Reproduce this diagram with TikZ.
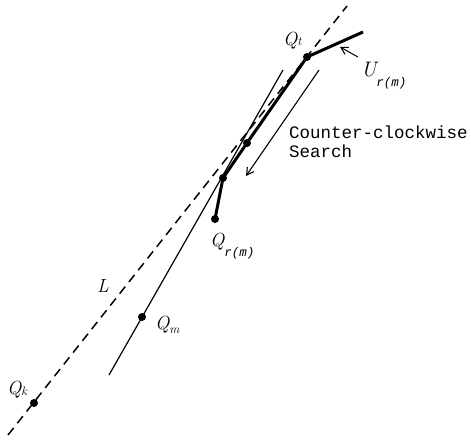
\documentclass[tikz,border=0pt]{standalone}
\usepackage{fontspec}
\setmonofont{Liberation Mono}
\usetikzlibrary{arrows.meta}
\newcommand\lsub[2]{\raisebox{-#1}{\fontsize{12.5}{13}\selectfont #2}}
\begin{document}
\begin{tikzpicture}[x=1pt,y=-1pt,
  dot/.style={circle,fill,inner sep=0pt,minimum size=8pt},
  lbl/.style={inner sep=0pt,anchor=base west,font=\fontsize{19}{22}\selectfont\itshape},
  thinline/.style={line width=1.2pt},
  boldline/.style={line width=3pt,line join=round},
  dashline/.style={line width=1.5pt,dash pattern=on 9pt off 6pt},
  pointer/.style={line width=1.1pt,-{Straight Barb[length=7pt,width=8pt]}}]
\useasboundingbox (0,0) rectangle (471,443);
% dashed line L
\coordinate (Lb) at (8,435);
\coordinate (Lt) at (347,6);
\draw[dashline] (Lb) -- (Lt);
% thin line through Qm
\coordinate (Mb) at (109,375);
\coordinate (Mt) at (283,70);
\draw[thinline] (Mb) -- (Mt);
% bold polyline
\node[dot] (qr) at (215,219) {};
\node[dot] (p1) at (223,178) {};
\node[dot] (p2) at (247,143) {};
\node[dot] (qt) at (307,57) {};
\coordinate (ue) at (363,32);
\draw[boldline] (qr.center) -- (p1.center) -- (p2.center) -- (qt.center) -- (ue);
\node[dot] (qm) at (142,317) {};
\node[dot] (qk) at (34,403) {};
% search arrow
\coordinate (sa) at (319,70);
\coordinate (sb) at (246,176);
\draw[pointer] (sa) -- (sb);
% U pointer
\coordinate (ua) at (358,57);
\coordinate (ub) at (340,47);
\draw[pointer,line width=1pt] (ua) -- (ub);
% labels
\node[lbl] (lqt) at (283,46) {Q\lsub{0pt}{t}};
\node[lbl] (lqr) at (210,247) {Q\lsub{10pt}{\ttfamily r(m)}};
\node[lbl] (lqm) at (155,330) {Q\lsub{4pt}{m}};
\node[lbl] (lqk) at (7,394) {Q\lsub{1pt}{k}};
\node[lbl] (ll) at (97,293) {L};
\node[lbl,font=\fontsize{21}{24}\selectfont\itshape] (lu) at (361,77) {U\lsub{10pt}{\ttfamily r(m)}};
\node[inner sep=0pt,anchor=north west,align=left,font=\ttfamily\fontsize{17.5}{19}\selectfont] (cs) at (289,126) {Counter-clockwise\\Search};
\end{tikzpicture}
\end{document}
